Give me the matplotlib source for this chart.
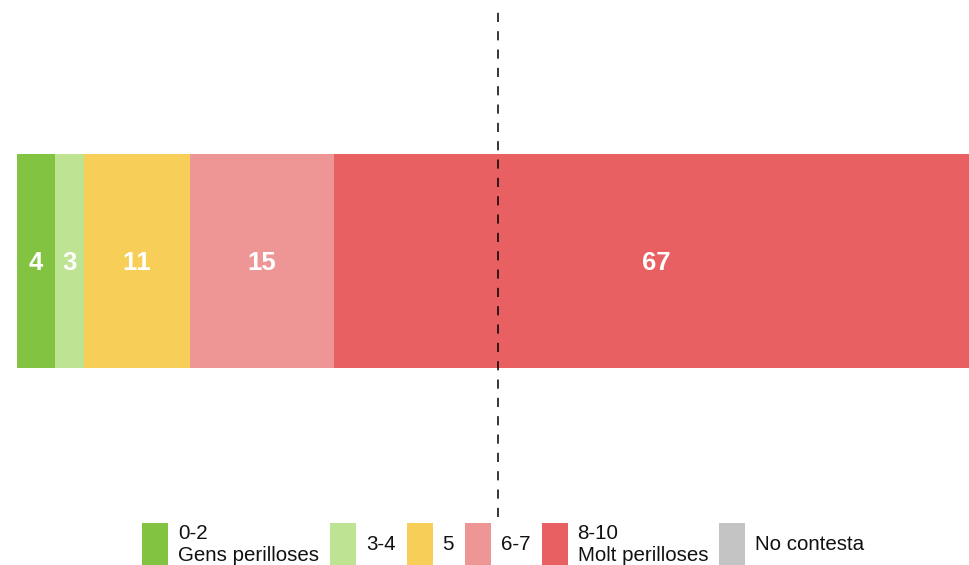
import matplotlib
matplotlib.use("Agg")
import matplotlib.pyplot as plt
from matplotlib.patches import Rectangle

# Percentage of answers per risk band
categories = ["0-2\nGens perilloses", "3-4", "5", "6-7", "8-10\nMolt perilloses", "No contesta"]
values = [4, 3, 11, 15, 67, 0]
colors = ["#82c341", "#bde393", "#f7cf58", "#ee9696", "#e86061", "#c4c4c4"]
reference_line = 50

plt.rcParams["font.family"] = ["Liberation Sans", "DejaVu Sans"]
plt.rcParams["text.kerning_factor"] = 6

W, H = 970, 565
fig = plt.figure(figsize=(W / 100, H / 100), dpi=100)
fig.patch.set_facecolor("white")

# Axes in pixel geometry: bar spans y 154..368, x from 17 over a 961 px scale
ax_left, ax_w = 17, 961
ax_top, ax_bot = 154, 368
ax = fig.add_axes([ax_left / W, (H - ax_bot) / H, ax_w / W, (ax_bot - ax_top) / H])
ax.set_xlim(0, 100)
ax.set_ylim(-0.5, 0.5)
ax.axis("off")

left = 0
for cat, val, col in zip(categories, values, colors):
    if val > 0:
        ax.barh(0, val, left=left, height=1.0, color=col, edgecolor="none", clip_on=False)
        ax.text(left + val / 2, 0, f"{val}", ha="center", va="center_baseline",
                color="white", fontsize=18.5, fontweight="bold")
    left += val

# Dashed midpoint marker extending above and below the bar
y_top_px, y_bot_px = 9, 517
h_ax = ax_bot - ax_top
ymax = (ax_bot - y_top_px) / h_ax
ymin = (ax_bot - y_bot_px) / h_ax
ax.axvline(reference_line, ymin=ymin, ymax=ymax, color="black", lw=1.1,
           dashes=(6.0, 6.0), clip_on=False, zorder=5)

# Legend row, laid out left to right in figure pixels
fig.canvas.draw()
renderer = fig.canvas.get_renderer()
x = 142
patch_w, patch_h = 26, 42
patch_top = 523
yc = H - 544.5
for cat, col in zip(categories, colors):
    fig.patches.append(Rectangle((x / W, (H - patch_top - patch_h) / H), patch_w / W, patch_h / H,
                                 transform=fig.transFigure, facecolor=col, edgecolor="none"))
    t = fig.text((x + patch_w + 10) / W, yc / H, cat, ha="left", va="center",
                 fontsize=14.8, linespacing=1.22, color="#111111")
    bb = t.get_window_extent(renderer=renderer)
    x = bb.x1 + 11

fig.savefig("out.png", dpi=100, facecolor="white")
